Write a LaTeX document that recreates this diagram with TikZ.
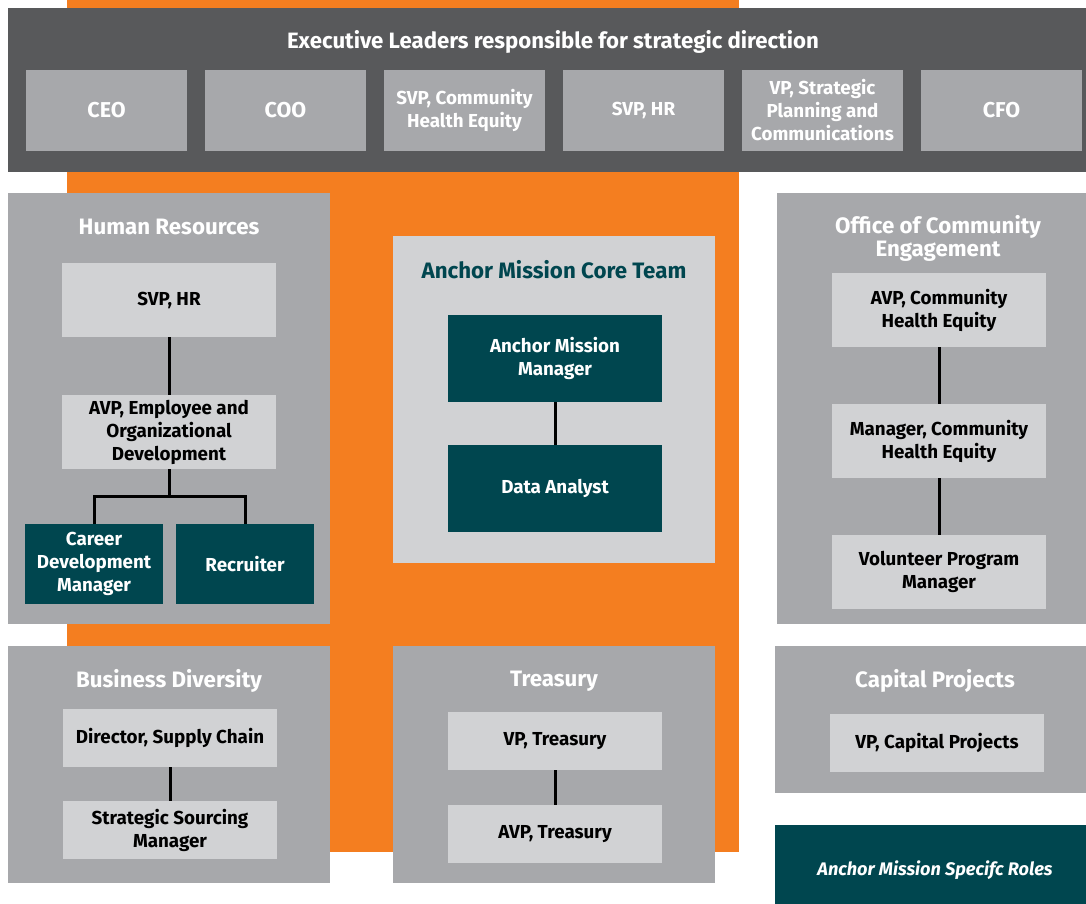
\documentclass[tikz,border=0pt]{standalone}
\usepackage{fontspec}
\setmainfont{Fira Sans}
\usetikzlibrary{positioning}
\definecolor{execgray}{HTML}{58595B}
\definecolor{panelgray}{HTML}{A7A8AB}
\definecolor{boxgray}{HTML}{D1D2D4}
\definecolor{amteal}{HTML}{00464F}
\definecolor{amorange}{HTML}{F47E20}
\begin{document}
\begin{tikzpicture}[
  x=1pt, y=-1pt,
  every node/.style={inner sep=0pt, outer sep=0pt, align=center, font=\fontsize{18.8}{23}\selectfont\bfseries},
  execbox/.style={fill=panelgray, text=white, minimum width=161pt, minimum height=81pt},
  bigtext/.style={font=\fontsize{21.5}{25}\selectfont\bfseries},
  panel/.style={fill=panelgray, minimum width=322pt},
  paneltitle/.style={text=white, font=\fontsize{22.3}{23}\selectfont\bfseries},
  rolebox/.style={fill=boxgray, text=black, minimum width=214pt},
  ambox/.style={fill=amteal, text=white},
  link/.style={line width=3pt, black},
]
  \useasboundingbox (0,0) rectangle (1086,904);
  \fill[amorange] (67,0) rectangle (739,852);

  % executive bar
  \node[fill=execgray, minimum width=1078pt, minimum height=164pt] (exec) at (547,90) {};
  \node[text=white, font=\fontsize{22.2}{25}\selectfont\bfseries] (exectitle) at (553,42) {Executive Leaders responsible for strategic direction};
  \node[execbox, bigtext] (ceo) at (106.5,110.5) {CEO};
  \node[execbox, bigtext] (coo) at (285.5,110.5) {COO};
  \node[execbox] (svpche) at (464.5,110.5) {SVP, Community\\Health Equity};
  \node[execbox] (svphrexec) at (643.5,110.5) {SVP, HR};
  \node[execbox] (vpspc) at (822.5,110.5) {VP, Strategic\\Planning and\\Communications};
  \node[execbox, bigtext] (cfo) at (1001.5,110.5) {CFO};

  % human resources
  \node[panel, minimum height=431pt] (hr) at (169,408.5) {};
  \node[paneltitle] (hrtitle) at (169,227) {Human Resources};
  \node[rolebox, minimum height=74pt] (svphr) at (169,300) {SVP, HR};
  \node[rolebox, minimum height=74pt] (avpemp) at (169,432) {AVP, Employee and\\Organizational\\Development};
  \node[ambox, minimum width=138pt, minimum height=80pt] (career) at (94,564) {Career\\Development\\Manager};
  \node[ambox, minimum width=138pt, minimum height=80pt] (recruiter) at (245,564) {Recruiter};
  \coordinate (split) at (169,496);
  \draw[link] (svphr) -- (avpemp);
  \draw[link] (avpemp) -- (split) -| (career);
  \draw[link] (split) -| (recruiter);

  % business diversity
  \node[panel, minimum height=237pt] (bd) at (169,764.5) {};
  \node[paneltitle] (bdtitle) at (169,681) {Business Diversity};
  \node[rolebox, minimum height=58pt] (director) at (170,738) {Director, Supply Chain};
  \node[rolebox, minimum height=58pt] (sourcing) at (170,830) {Strategic Sourcing\\Manager};
  \draw[link] (director) -- (sourcing);

  % core team
  \node[fill=boxgray, minimum width=322pt, minimum height=327pt] (core) at (554,399.5) {};
  \node[paneltitle, text=amteal] (coretitle) at (554,270) {Anchor Mission Core Team};
  \node[ambox, minimum width=214pt, minimum height=87pt] (ammgr) at (555,358.5) {Anchor Mission\\Manager};
  \node[ambox, minimum width=214pt, minimum height=87pt] (analyst) at (555,488.5) {Data Analyst};
  \draw[link] (ammgr) -- (analyst);

  % treasury
  \node[panel, minimum height=237pt] (treasury) at (554,764.5) {};
  \node[paneltitle] (treastitle) at (554,681) {Treasury};
  \node[rolebox, minimum height=58pt] (vptreas) at (555,741) {VP, Treasury};
  \node[rolebox, minimum height=58pt] (avptreas) at (555,834) {AVP, Treasury};
  \draw[link] (vptreas) -- (avptreas);

  % community engagement
  \node[panel, minimum width=309pt, minimum height=431pt] (oce) at (931.5,408.5) {};
  \node[paneltitle] (ocetitle) at (938,238.5) {Office of Community\\Engagement};
  \node[rolebox, minimum height=74pt] (avpche) at (939,310) {AVP, Community\\Health Equity};
  \node[rolebox, minimum height=74pt] (mgrche) at (939,441) {Manager, Community\\Health Equity};
  \node[rolebox, minimum height=74pt] (volunteer) at (939,572) {Volunteer Program\\Manager};
  \draw[link] (avpche) -- (mgrche);
  \draw[link] (mgrche) -- (volunteer);

  % capital projects
  \node[panel, minimum width=311pt, minimum height=147pt] (capital) at (930.5,719.5) {};
  \node[paneltitle] (captitle) at (935,681) {Capital Projects};
  \node[rolebox, minimum height=58pt] (vpcap) at (937,743) {VP, Capital Projects};

  % legend
  \node[ambox, minimum width=311pt, minimum height=79pt] (legend) at (930.5,864.5) {};
  \node[text=white, font=\fontsize{18.2}{23}\selectfont\bfseries\itshape] (legendtext) at (935,870) {Anchor Mission Specifc Roles};
\end{tikzpicture}
\end{document}
